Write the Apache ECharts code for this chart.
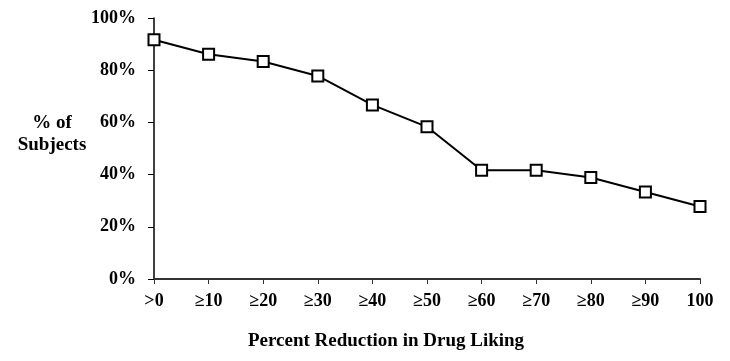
<!DOCTYPE html>
<html>
<head>
<meta charset="utf-8">
<script src="https://cdn.jsdelivr.net/npm/echarts@6/dist/echarts.min.js"></script>
<style>
html,body{margin:0;padding:0;background:#fff;}
#chart{width:730px;height:361px;}
</style>
</head>
<body>
<div id="chart"></div>
<script>
const categories = ['>0', '≥10', '≥20', '≥30', '≥40', '≥50', '≥60', '≥70', '≥80', '≥90', '100'];
const percentSubjects = [91.7, 86.1, 83.3, 77.8, 66.7, 58.3, 41.7, 41.7, 38.9, 33.3, 27.8];
const yTicks = [0, 20, 40, 60, 80, 100];
const xTitle = 'Percent Reduction in Drug Liking';
const yTitle = '% of\nSubjects';

const FONT = '"Liberation Serif", "Times New Roman", serif';
const chart = echarts.init(document.getElementById('chart'));
chart.setOption({
  animation: false,
  backgroundColor: '#fff',
  grid: { left: 154, right: 30, top: 18, bottom: 82, containLabel: false },
  xAxis: {
    type: 'category',
    data: categories,
    boundaryGap: false,
    axisLine: { lineStyle: { color: '#333', width: 2 } },
    axisTick: { show: true, length: 5, alignWithLabel: true, lineStyle: { color: '#333', width: 1 } },
    axisLabel: { fontFamily: FONT, fontWeight: 'bold', fontSize: 18, color: '#000', margin: 13, interval: 0 },
    splitLine: { show: false }
  },
  yAxis: {
    type: 'value',
    min: yTicks[0],
    max: yTicks[yTicks.length - 1],
    interval: 20,
    axisLine: { show: true, lineStyle: { color: '#000', width: 1.5 } },
    axisTick: { show: true, length: 6, lineStyle: { color: '#000', width: 1 } },
    axisLabel: { fontFamily: FONT, fontWeight: 'bold', fontSize: 18, color: '#000', margin: 18, formatter: v => v + '%' },
    splitLine: { show: false }
  },
  graphic: [{
    type: 'text',
    x: 52,
    y: 134,
    style: {
      text: yTitle,
      fontFamily: FONT,
      fontWeight: 'bold',
      fontSize: 19,
      fill: '#000',
      align: 'center',
      verticalAlign: 'middle',
      lineHeight: 22
    }
  }, {
    type: 'text',
    x: 386,
    y: 341,
    style: {
      text: xTitle,
      fontFamily: FONT,
      fontWeight: 'bold',
      fontSize: 19,
      fill: '#000',
      align: 'center',
      verticalAlign: 'middle'
    }
  }],
  series: [{
    type: 'line',
    data: percentSubjects,
    symbol: 'rect',
    symbolSize: 11,
    showAllSymbol: true,
    lineStyle: { color: '#000', width: 2 },
    itemStyle: { color: '#fff', borderColor: '#000', borderWidth: 2 }
  }]
});
</script>
</body>
</html>
